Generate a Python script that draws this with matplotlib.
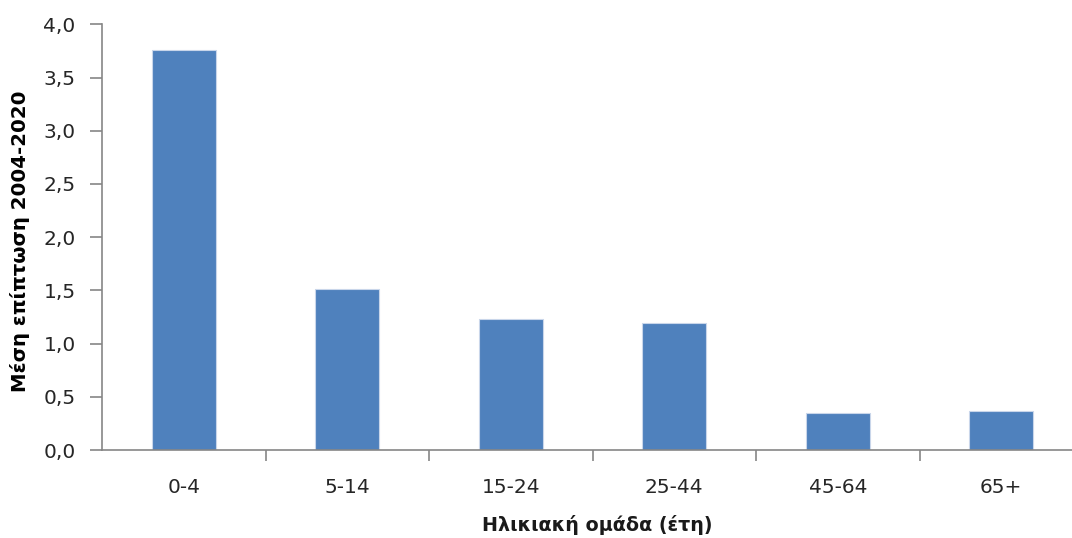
import matplotlib
matplotlib.use("Agg")
import matplotlib.pyplot as plt
import numpy as np

categories = ["0-4", "5-14", "15-24", "25-44", "45-64", "65+"]
values = [3.76, 1.515, 1.232, 1.195, 0.345, 0.367]
yticks = [0.0, 0.5, 1.0, 1.5, 2.0, 2.5, 3.0, 3.5, 4.0]
ytick_labels = ["0,0", "0,5", "1,0", "1,5", "2,0", "2,5", "3,0", "3,5", "4,0"]

W, H = 1072, 538
fig = plt.figure(figsize=(W / 100, H / 100), dpi=100)
left, right, top, bottom = 102, 102 + 6 * 163.5, 24.3, 450
ax = fig.add_axes([left / W, 1 - bottom / H, (right - left) / W, (bottom - top) / H])

x = np.arange(len(categories))
ax.bar(x, values, width=0.39, color="#4F81BD", edgecolor="#C9D6EA", linewidth=0.8, zorder=2)

ax.set_xlim(-0.5, len(categories) - 0.5)
ax.set_ylim(0, 4.0)
ax.set_yticks(yticks)
ax.set_yticklabels(ytick_labels)
ax.set_xticks(x)
ax.set_xticklabels(categories)
ax.set_xticks(np.arange(len(categories) - 1) + 0.5, minor=True)

for s in ["top", "right"]:
    ax.spines[s].set_visible(False)
for s in ["left", "bottom"]:
    ax.spines[s].set_color("#868686")
    ax.spines[s].set_linewidth(1.2)

ax.tick_params(axis="y", which="major", direction="out", length=9, width=1.2,
               color="#868686", labelsize=14.5, labelcolor="#262626", pad=10)
ax.tick_params(axis="x", which="major", length=0, labelsize=14.5,
               labelcolor="#262626", pad=20)
ax.tick_params(axis="x", which="minor", direction="out", length=8, width=1.2,
               color="#868686")

fig.text(597 / W, 1 - 525 / H, "Ηλικιακή ομάδα (έτη)", ha="center", va="center",
         fontsize=13.8, fontweight="bold", color="#1a1a1a")
fig.text(20 / W, 1 - 241 / H, "Μέση επίπτωση 2004-2020", ha="center", va="center",
         rotation=90, fontsize=14.2, fontweight="bold", color="#000000")

fig.savefig("out.png", dpi=100)
